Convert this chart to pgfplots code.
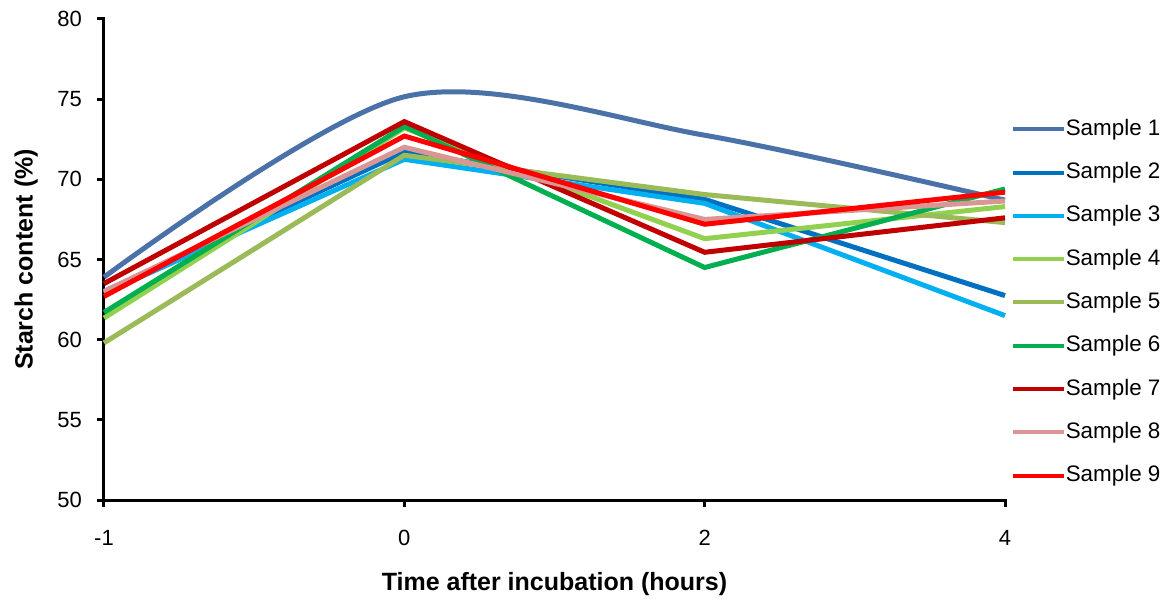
\documentclass[border=0pt]{standalone}
\usepackage{pgfplots}
\pgfplotsset{compat=1.18}
\usepackage{fontspec}
\setmainfont{Liberation Sans}
\definecolor{s1}{HTML}{4A72A8}
\definecolor{s2}{HTML}{0070C0}
\definecolor{s3}{HTML}{00B0F0}
\definecolor{s4}{HTML}{92D050}
\definecolor{s5}{HTML}{9BBB59}
\definecolor{s6}{HTML}{00B050}
\definecolor{s7}{HTML}{C00000}
\definecolor{s8}{HTML}{D99694}
\definecolor{s9}{HTML}{FF0000}
\begin{document}
\begin{tikzpicture}
\begin{axis}[
  name=ax,
  scale only axis,
  width=450.5pt, height=240.5pt,
  xmin=0, xmax=3, ymin=50, ymax=80,
  xtick={0,1,2,3}, xticklabels={-1,0,2,4},
  ytick={50,55,...,80},
  axis x line*=bottom, axis y line*=left,
  axis line style={line width=1.5pt, line cap=rect},
  every tick/.style={black, line width=1.5pt},
  major tick length=3.5pt,
  tick align=outside,
  font=\fontsize{11pt}{13pt}\selectfont,
  /pgf/number format/assume math mode=true,
  xticklabel style={yshift=-8pt},
  yticklabel style={xshift=-4pt},
  xlabel={\bfseries Time after incubation (hours)},
  ylabel={\bfseries Starch content (\%)},
  xlabel style={yshift=-6.5pt, font=\fontsize{12.5pt}{14pt}\selectfont},
  ylabel style={yshift=3pt, font=\fontsize{12.5pt}{14pt}\selectfont},
  clip=false,
  every axis plot/.append style={line width=2.5pt, line join=miter},
  legend style={draw=none, fill=none, inner sep=0pt, at={(rel axis cs:1.006,0.7925)}, anchor=north west,
    nodes={inner sep=0pt, text height=8pt, text depth=2pt, anchor=west}, row sep=11.65pt, font=\fontsize{11.2pt}{13pt}\selectfont},
  legend cell align=left,
  legend image code/.code={\draw[#1, line width=2pt] (0pt,0pt) -- (25.5pt,0pt);},
  /tikz/every even column/.append style={column sep=2pt},
]
\addplot[s1, smooth, tension=0.5] coordinates {(0,63.9) (1,75.15) (2,72.75) (3,68.7)};
\addlegendentry{Sample 1}
\addplot[s2] coordinates {(0,63.0) (1,71.7) (2,68.75) (3,62.75)};
\addlegendentry{Sample 2}
\addplot[s3] coordinates {(0,62.9) (1,71.25) (2,68.5) (3,61.5)};
\addlegendentry{Sample 3}
\addplot[s4] coordinates {(0,61.35) (1,73.2) (2,66.3) (3,68.3)};
\addlegendentry{Sample 4}
\addplot[s5] coordinates {(0,59.8) (1,71.5) (2,69.05) (3,67.3)};
\addlegendentry{Sample 5}
\addplot[s6] coordinates {(0,61.7) (1,73.3) (2,64.5) (3,69.4)};
\addlegendentry{Sample 6}
\addplot[s7] coordinates {(0,63.5) (1,73.6) (2,65.45) (3,67.6)};
\addlegendentry{Sample 7}
\addplot[s8] coordinates {(0,63.0) (1,72.0) (2,67.5) (3,68.65)};
\addlegendentry{Sample 8}
\addplot[s9] coordinates {(0,62.7) (1,72.7) (2,67.2) (3,69.2)};
\addlegendentry{Sample 9}
\end{axis}
\pgfresetboundingbox
\path[use as bounding box] ([shift={(-52pt,-50pt)}]ax.south west) rectangle ([shift={(82pt,9.5pt)}]ax.north east);
\end{tikzpicture}
\end{document}
